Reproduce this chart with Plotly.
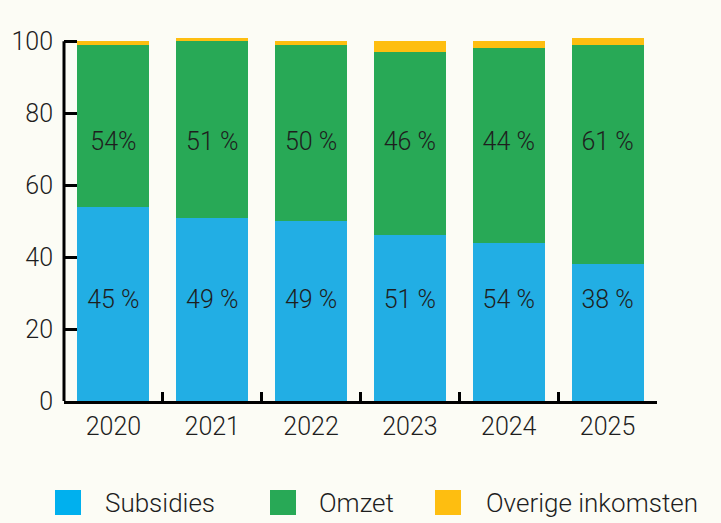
import plotly.graph_objects as go

years = ["2020", "2021", "2022", "2023", "2024", "2025"]
subsidies = [54, 51, 50, 46, 44, 38]
omzet = [45, 49, 49, 51, 54, 61]
overige = [1, 1, 1, 3, 2, 2]

label_blue = ["45 %", "49 %", "49 %", "51 %", "54 %", "38 %"]
label_green = ["54%", "51 %", "50 %", "46 %", "44 %", "61 %"]
label_top = ["1 %", "1 %", "1 %", "3 %", "2 %", "2 %"]

series_names = ["Subsidies", "Omzet", "Overige inkomsten"]
bar_colors = ["#22AEE4", "#28A956", "#FEBE10"]
legend_colors = ["#00B0EE", "#28A956", "#FEBE10"]

W, H = 721, 523
L, R, T, B = 64, 64, 34, 122
PW, PH = W - L - R, H - T - B
FONT = "Roboto"
FS = 25
TXT = "#1e1e1e"

fig = go.Figure()
for name, vals, col in zip(series_names, [subsidies, omzet, overige], bar_colors):
    fig.add_trace(go.Bar(x=years, y=vals, name=name, marker=dict(color=col, line=dict(width=0)),
                         showlegend=False, hoverinfo="skip"))

for labels, ypos in [(label_blue, 27.5), (label_green, 71.5), (label_top, 105)]:
    fig.add_trace(go.Scatter(x=years, y=[ypos] * len(years), mode="text", text=labels,
                             textposition="middle center", cliponaxis=False,
                             textfont=dict(family=FONT, size=FS, color=TXT, weight=300),
                             showlegend=False, hoverinfo="skip"))

def px_x(p):
    return (p - L) / PW

def px_y(p):
    return (H - B - p) / PH

shapes = [dict(type="line", xref="paper", yref="y", x0=0, x1=0, y0=0, y1=100,
               line=dict(color="black", width=3))]
annotations = []
legend_sq_x = [55, 270, 435]
legend_txt_x = [103, 317, 484]
for name, col, sx, tx in zip(series_names, legend_colors, legend_sq_x, legend_txt_x):
    shapes.append(dict(type="rect", xref="paper", yref="paper",
                       x0=px_x(sx), x1=px_x(sx + 26), y0=px_y(490), y1=px_y(515),
                       fillcolor=col, line=dict(width=0)))
    annotations.append(dict(xref="paper", yref="paper", x=px_x(tx), y=px_y(502.5),
                            xanchor="left", yanchor="middle", text=name, showarrow=False,
                            font=dict(family=FONT, size=26, color=TXT, weight=300)))

fig.update_layout(
    width=W, height=H,
    margin=dict(l=L, r=R, t=T, b=B, pad=0),
    paper_bgcolor="#FCFCF5", plot_bgcolor="#FCFCF5",
    barmode="stack", bargap=0.27,
    shapes=shapes, annotations=annotations,
    font=dict(family=FONT, size=FS, color=TXT, weight=300),
    xaxis=dict(type="category", range=[-0.5, 5.5], showline=True, linecolor="black", linewidth=3,
               ticks="inside", tickson="boundaries", ticklen=9, tickwidth=3, tickcolor="black",
               showgrid=False, zeroline=False, ticklabelstandoff=1,
               tickfont=dict(family=FONT, size=FS, color=TXT, weight=300)),
    yaxis=dict(range=[0, 102], tickvals=[0, 20, 40, 60, 80, 100], showline=False,
               ticks="inside", ticklen=13, tickwidth=3, tickcolor="black",
               showgrid=False, zeroline=False, ticklabelstandoff=10,
               tickfont=dict(family=FONT, size=FS, color=TXT, weight=300)),
)

fig.write_html("out.html")
